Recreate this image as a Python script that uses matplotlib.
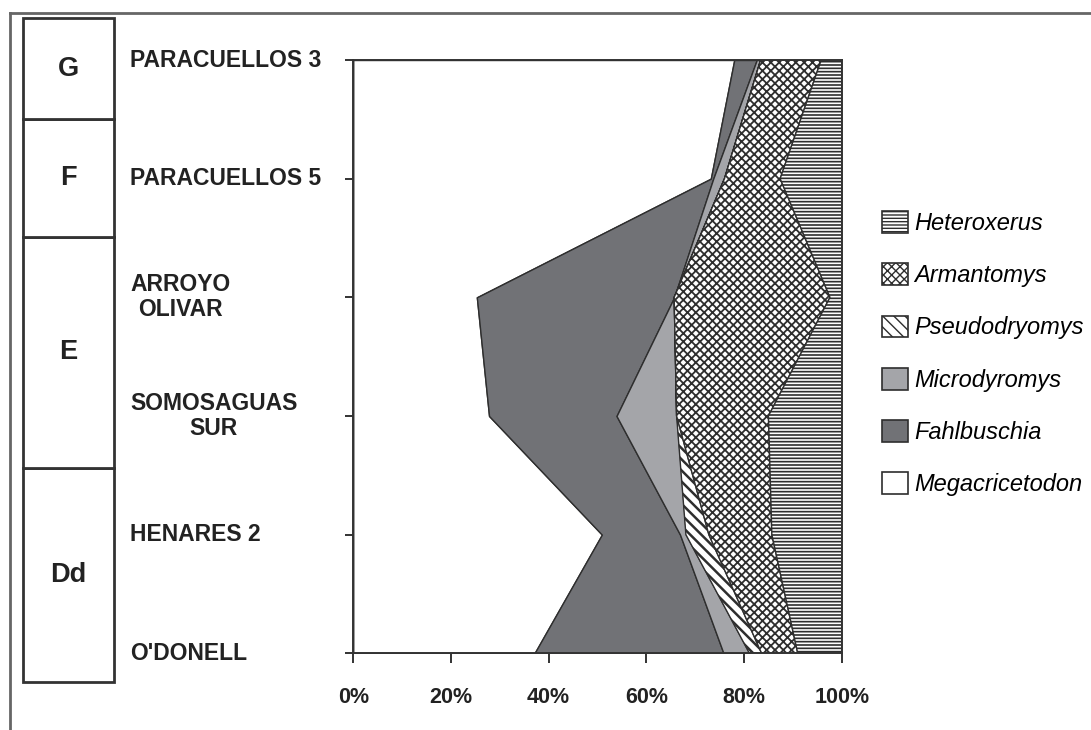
import matplotlib.pyplot as plt
import numpy as np
from matplotlib.patches import Patch, Rectangle
from matplotlib.lines import Line2D

plt.rcParams['font.family'] = ['Liberation Sans', 'DejaVu Sans']
plt.rcParams['hatch.color'] = '#2e2e2e'

# sites from bottom (oldest) to top
sites = ["O'DONELL", "HENARES 2", "SOMOSAGUAS\nSUR", "ARROYO\nOLIVAR",
         "PARACUELLOS 5", "PARACUELLOS 3"]

# relative abundance (%) per site, same order as sites
megacricetodon = [37.1, 50.9, 27.8, 25.3, 73.2, 78.0]
fahlbuschia    = [38.7, 16.0, 26.1, 40.4, 0.5, 4.6]
microdyromys   = [5.3, 1.2, 12.3, 0.0, 2.3, 0.8]
pseudodryomys  = [2.5, 4.7, 0.0, 0.0, 0.0, 0.0]
armantomys     = [7.4, 12.9, 18.8, 31.9, 11.4, 12.4]
heteroxerus    = [9.0, 14.3, 15.0, 2.4, 12.6, 4.2]

taxa = ["Megacricetodon", "Fahlbuschia", "Microdyromys", "Pseudodryomys",
        "Armantomys", "Heteroxerus"]

# biostratigraphic zones, bounds in site-axis units (bottom to top)
zones = ["Dd", "E", "F", "G"]
zone_bounds = [-0.24, 1.56, 3.51, 4.5, 5.35]

# fill style per taxon: (facecolor, hatch, hatch linewidth)
styles = {
    "Megacricetodon": ("white", None, 1.0),
    "Fahlbuschia": ("#717276", None, 1.0),
    "Microdyromys": ("#a4a5a9", None, 1.0),
    "Pseudodryomys": ("white", "\\\\\\", 1.8),
    "Armantomys": ("white", "xxxx", 1.3),
    "Heteroxerus": ("white", "-----", 1.2),
}
edge = "#2e2e2e"

fig = plt.figure(figsize=(10.91, 7.30), dpi=100)
ax = fig.add_axes([0.3238, 0.1051, 0.4477, 0.8127])

y = np.arange(len(sites))
series = [megacricetodon, fahlbuschia, microdyromys, pseudodryomys,
          armantomys, heteroxerus]
left = np.zeros(len(sites))
handles = []
for name, vals in zip(taxa, series):
    right = left + np.array(vals)
    fc, hatch, hlw = styles[name]
    poly = ax.fill_betweenx(y, left, right, facecolor=fc, edgecolor=edge,
                            hatch=hatch, linewidth=1.0)
    if hatch and hasattr(poly, "set_hatch_linewidth"):
        poly.set_hatch_linewidth(hlw)
    h = Patch(facecolor=fc, edgecolor=edge, hatch=hatch, linewidth=1.2)
    if hatch and hasattr(h, "set_hatch_linewidth"):
        h.set_hatch_linewidth(hlw)
    handles.append(h)
    left = right

ax.set_xlim(0, 100)
ax.set_ylim(0, len(sites) - 1)
ax.set_xticks(range(0, 101, 20))
ax.set_xticklabels([f"{v}%" for v in range(0, 101, 20)],
                   fontsize=15.5, fontweight='bold', color='#222')
ax.set_yticks(y)
ax.set_yticklabels([])
ax.tick_params(axis='y', direction='out', length=6, width=1.4, color='#333')
ax.tick_params(axis='x', direction='out', length=7, width=1.4, color='#333', pad=17)
for sp in ax.spines.values():
    sp.set_color('#333')
    sp.set_linewidth(1.4)

# site names
tr = ax.get_yaxis_transform()
for yi, name in zip(y, sites):
    ax.text(-0.457, yi, name, transform=tr, ha='left', va='center',
            multialignment='center', fontsize=16.5, fontweight='bold',
            color='#222', linespacing=1.12, clip_on=False)

# zone column
x0, x1 = -0.677, -0.489
for i, z in enumerate(zones):
    lo, hi = zone_bounds[i], zone_bounds[i + 1]
    ax.add_patch(Rectangle((x0, lo), x1 - x0, hi - lo, transform=tr,
                           facecolor='white', edgecolor='#333', linewidth=2.0,
                           clip_on=False))
    ax.text((x0 + x1) / 2, (lo + hi) / 2, z, transform=tr, ha='center',
            va='center', fontsize=19.5, fontweight='bold', color='#222',
            clip_on=False)

# legend, top entry first
fig.legend(handles[::-1], taxa[::-1], loc='upper left',
           bbox_to_anchor=(882.0 / 1091, 1 - 211.0 / 730), frameon=False,
           borderpad=0, borderaxespad=0, handlelength=1.08, handleheight=1.04,
           handletextpad=0.3, labelspacing=1.2,
           prop={'family': 'Liberation Sans', 'style': 'italic', 'size': 17})

# frame of the original figure panel
fig.add_artist(Line2D([10 / 1091, 10 / 1091], [0, 1 - 13 / 730],
                      transform=fig.transFigure, color='#666', linewidth=2))
fig.add_artist(Line2D([10 / 1091, 1], [1 - 13 / 730, 1 - 13 / 730],
                      transform=fig.transFigure, color='#666', linewidth=2))

fig.savefig("out.png", dpi=100)
